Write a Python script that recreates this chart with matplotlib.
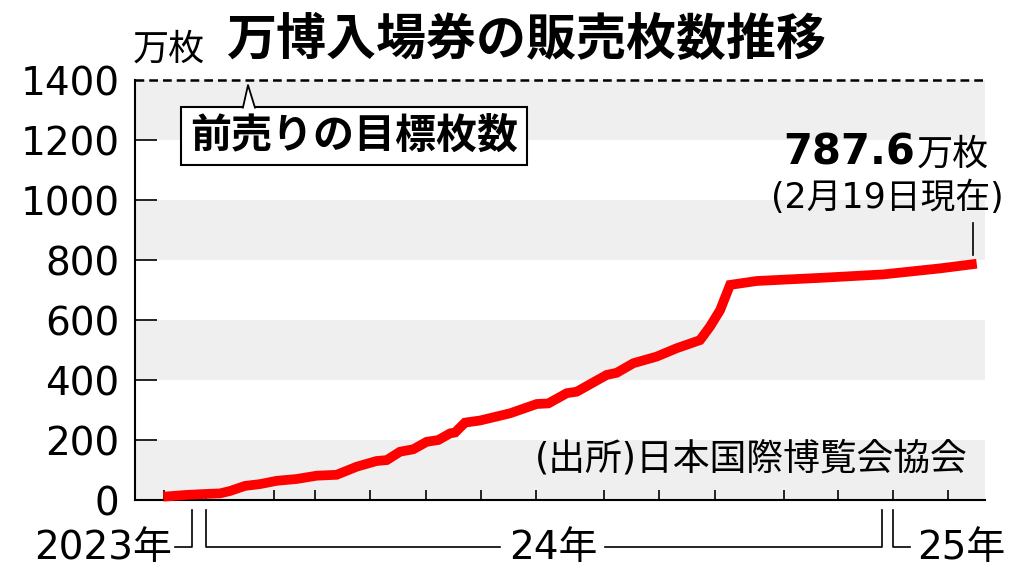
import matplotlib
matplotlib.use('Agg')
import matplotlib.pyplot as plt
import matplotlib.transforms as mtransforms
from matplotlib.patches import Polygon

plt.rcParams['font.family'] = ['DejaVu Sans', 'Noto Sans CJK JP']

# x = days from 2024-01-01, y = 万枚
days = [-22.7, -10.3, -0.5, 7.5, 12.8, 20.8, 28.8, 37.7, 48.3, 59.0, 69.6,
        80.3, 90.9, 96.3, 103.4, 110.4, 117.6, 123.8, 130.0, 132.7, 138.0,
        146.0, 162.0, 176.2, 182.4, 192.2, 197.5, 213.5, 218.8, 227.7, 240.1,
        250.8, 263.2, 268.5, 273.9, 279.2, 293.4, 328.9, 360.8, 391.0, 410.6]
sales = [11, 17, 20, 22, 30, 47, 53, 64, 70, 81, 84,
         111, 130, 133, 161, 169, 194, 200, 222, 225, 258,
         265, 289, 320, 322, 356, 361, 417, 424, 456, 478,
         506, 533, 578, 633, 717, 730, 741, 752, 772, 787.6]

tick_days = [-22.4, 0, 36.2, 58.1, 87.4, 117.2, 146.5, 175.8, 212.0,
             241.3, 271.2, 307.9, 336.7, 366, 395.3]
yticks = [0, 200, 400, 600, 800, 1000, 1200, 1400]
target = 1400
latest = 787.6

fig = plt.figure(figsize=(10.24, 5.76), dpi=100)
ax = fig.add_axes([135 / 1024, 76 / 576, 850 / 1024, 420 / 576])

# grey bands
for lo in [0, 400, 800, 1200]:
    ax.axhspan(lo, lo + 200, color='#efefef', lw=0, zorder=0)

ax.axhline(target, color='black', lw=1.8, ls=(0, (3.5, 2)), zorder=2, clip_on=False)
ax.plot(days, sales, color='#ff0000', lw=7, solid_joinstyle='miter',
        solid_capstyle='butt', zorder=4, clip_on=False)

ax.set_xlim(-37.8, 415)
ax.set_ylim(0, 1400)
ax.spines['top'].set_visible(False)
ax.spines['right'].set_visible(False)
ax.spines['left'].set_linewidth(1.5)
ax.spines['bottom'].set_linewidth(1.5)

ax.set_xticks(tick_days)
ax.set_xticklabels([])
ax.tick_params(axis='x', direction='in', length=7.5, width=1.2)
ax.set_yticks(yticks)
ax.set_yticklabels([str(v) for v in yticks], fontsize=28)
ax.tick_params(axis='y', direction='in', length=16, width=1.2, pad=11)
ax.yaxis.get_major_ticks()[-1].tick1line.set_visible(False)
ax.yaxis.get_major_ticks()[0].tick1line.set_visible(False)

# titles
fig.text(0.514, 0.929, '万博入場券の販売枚数推移', fontsize=36, fontweight='bold',
         ha='center', va='center')
fig.text(0.130, 0.913, '万枚', fontsize=26, ha='left', va='center')

# target callout
ax.text(78.8, 1212, '前売りの目標枚数', fontsize=29.5, fontweight='bold',
        ha='center', va='center', zorder=5,
        bbox=dict(boxstyle='square,pad=0.22', fc='white', ec='black', lw=1.5))
ax.add_patch(Polygon([[19.7, 1300], [22.4, 1383], [26.1, 1300]], closed=True,
                     fc='white', ec='none', zorder=6))
ax.plot([19.7, 22.4, 26.1], [1308, 1383, 1308], color='black', lw=1.3, zorder=7)

# latest value
ax.text(377.7, 1117, f'{latest}', fontsize=30, fontweight='bold',
        ha='right', va='baseline')
ax.text(378.5, 1117, '万枚', fontsize=26, ha='left', va='baseline')
ax.text(362.8, 1007, '(2月19日現在)', fontsize=25, ha='center', va='center')
ax.plot([408.6, 408.6], [923, 817], color='black', lw=1.2, clip_on=False)

ax.text(406, 137, '(出所)日本国際博覧会協会', fontsize=26.5, ha='right', va='center')

# year brackets below axis
trans = mtransforms.blended_transform_factory(ax.transData, ax.transAxes)
y_top, y_bot = -0.024, -0.112
brackets = [
    ([-16.5, -7.5, -7.5], [y_bot, y_bot, y_top]),
    ([0, 0, 156.6], [y_top, y_bot, y_bot]),
    ([212.6, 360.2, 360.2], [y_bot, y_bot, y_top]),
    ([366, 366, 375], [y_top, y_bot, y_bot]),
]
for bx, by in brackets:
    ax.plot(bx, by, color='black', lw=1.2, transform=trans, clip_on=False)
ax.text(-18.1, -0.114, '2023年', fontsize=28, ha='right', va='center', transform=trans)
ax.text(184.9, -0.114, '24年', fontsize=28, ha='center', va='center', transform=trans)
ax.text(378.8, -0.114, '25年', fontsize=28, ha='left', va='center', transform=trans)

fig.savefig('out.png', dpi=100)
